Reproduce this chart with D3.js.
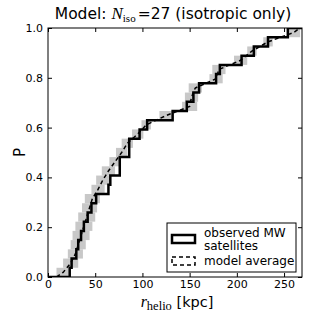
<!DOCTYPE html>
<html>
<head>
<meta charset="utf-8">
<script src="https://cdn.jsdelivr.net/npm/d3@7"></script>
<style>
    html, body { margin: 0; padding: 0; background: #fff; }
    svg text { font-family: "DejaVu Sans", sans-serif; fill: #000; }
</style>
</head>
<body>
<svg id="chart" width="316" height="316"></svg>
<script>
// observed MW satellites, heliocentric distances [kpc], sorted
const observedR = [23, 25, 30, 32, 35, 38, 42, 46, 51, 64, 66, 76, 76, 86, 86,
                   97, 105, 132, 147, 154, 160, 178, 182, 205, 218, 233, 254];
// model average of k-th nearest distance and its half spread [kpc]
const modelR = [16, 24, 29, 32, 35, 38, 41, 44, 47, 53, 58, 64, 71, 78, 84,
                95, 104, 125, 150, 152, 156, 178, 181, 204, 216, 233, 260];
const modelHalf = [7, 8, 8, 8, 9, 9, 9, 8, 8, 7, 7, 7, 6, 6, 6,
                   6, 5, 7, 8, 7, 7, 7, 7, 7, 5, 5, 7];
const xTicks = [0, 50, 100, 150, 200, 250];
const yTicks = [0, 0.2, 0.4, 0.6, 0.8, 1.0];
const legendLabels = [["observed MW", "satellites"], ["model average"]];

const svg = d3.select("#chart");
const plot = { left: 48, right: 302, top: 28, bottom: 277 };
const n = observedR.length;

const x = d3.scaleLinear().domain([0, 269]).range([plot.left, plot.right]);
const y = d3.scaleLinear().domain([0, 1]).range([plot.bottom, plot.top]);

svg.append("clipPath").attr("id", "clip")
    .append("rect")
    .attr("x", plot.left).attr("y", plot.top)
    .attr("width", plot.right - plot.left).attr("height", plot.bottom - plot.top);

const g = svg.append("g").attr("clip-path", "url(#clip)");

// gray spread boxes
g.selectAll("rect.spread")
    .data(modelR)
    .enter().append("rect")
    .attr("class", "spread")
    .attr("x", (d, i) => x(d - modelHalf[i]))
    .attr("width", (d, i) => x(d + modelHalf[i]) - x(d - modelHalf[i]))
    .attr("y", (d, i) => y((i + 1) / n))
    .attr("height", (d, i) => y(i / n) - y((i + 1) / n))
    .attr("fill", "#c8c8c8");

// model average (dashed)
let avgPoints = [{ r: modelR[0] - modelHalf[0], p: 0 }];
modelR.forEach(function(d, i) { avgPoints.push({ r: d, p: (i + 0.5) / n }); });
avgPoints.push({ r: modelR[n - 1] + modelHalf[n - 1], p: 1 });

g.append("path")
    .attr("d", d3.line().x(d => x(d.r)).y(d => y(d.p))(avgPoints))
    .attr("fill", "none")
    .attr("stroke", "#000")
    .attr("stroke-width", 1.5)
    .attr("stroke-dasharray", "4 3");

// observed cumulative distribution (step)
let obsPoints = [{ r: 0, p: 0 }];
observedR.forEach(function(d, i) { obsPoints.push({ r: d, p: (i + 1) / n }); });
obsPoints.push({ r: 269, p: 1 });

g.append("path")
    .attr("d", d3.line().curve(d3.curveStepAfter).x(d => x(d.r)).y(d => y(d.p))(obsPoints))
    .attr("fill", "none")
    .attr("stroke", "#000")
    .attr("stroke-width", 2.5);

// axes, ticks pointing in, on all four sides
svg.append("g").attr("transform", `translate(0,${plot.bottom})`)
    .call(d3.axisBottom(x).tickValues(xTicks).tickSizeInner(-4).tickSizeOuter(0).tickPadding(3))
    .call(a => a.selectAll("text").attr("font-size", 11).attr("font-family", "DejaVu Sans"));
svg.append("g").attr("transform", `translate(0,${plot.top})`)
    .call(d3.axisTop(x).tickValues(xTicks).tickSizeInner(-4).tickSizeOuter(0).tickFormat(""));
svg.append("g").attr("transform", `translate(${plot.left},0)`)
    .call(d3.axisLeft(y).tickValues(yTicks).tickSizeInner(-4).tickSizeOuter(0).tickPadding(5).tickFormat(d3.format(".1f")))
    .call(a => a.selectAll("text").attr("font-size", 11).attr("font-family", "DejaVu Sans"));
svg.append("g").attr("transform", `translate(${plot.right},0)`)
    .call(d3.axisRight(y).tickValues(yTicks).tickSizeInner(-4).tickSizeOuter(0).tickFormat(""));
svg.selectAll(".domain").remove();

svg.append("rect")
    .attr("x", plot.left).attr("y", plot.top)
    .attr("width", plot.right - plot.left).attr("height", plot.bottom - plot.top)
    .attr("fill", "none").attr("stroke", "#000").attr("stroke-width", 1);

// title
const title = svg.append("text")
    .attr("x", 173).attr("y", 19)
    .attr("text-anchor", "middle")
    .attr("font-size", 15.5);
title.append("tspan").text("Model: ");
title.append("tspan").text("N").attr("font-family", "Liberation Serif").attr("font-style", "italic").attr("font-size", 17);
title.append("tspan").text("iso").attr("font-family", "Liberation Serif").attr("font-size", 11).attr("dy", 3);
title.append("tspan").text("=").attr("dy", -3).attr("dx", 2);
title.append("tspan").text("27 (isotropic only)");

// axis labels
const xl = svg.append("text")
    .attr("x", 177).attr("y", 307)
    .attr("text-anchor", "middle")
    .attr("font-size", 14.5);
xl.append("tspan").text("r").attr("font-family", "Liberation Serif").attr("font-style", "italic").attr("font-size", 16);
xl.append("tspan").text("helio").attr("font-family", "Liberation Serif").attr("font-size", 12.5).attr("dy", 3);
xl.append("tspan").text(" [kpc]").attr("dy", -3);

svg.append("text")
    .attr("transform", `translate(25,${(plot.top + plot.bottom) / 2}) rotate(-90)`)
    .attr("text-anchor", "middle")
    .attr("font-size", 15)
    .text("P");

// legend
const lg = svg.append("g");
lg.append("rect")
    .attr("x", 167).attr("y", 223).attr("width", 129).attr("height", 49)
    .attr("fill", "#fff").attr("stroke", "#000").attr("stroke-width", 1);
lg.append("rect")
    .attr("x", 172).attr("y", 235).attr("width", 23).attr("height", 8)
    .attr("fill", "none").attr("stroke", "#000").attr("stroke-width", 2.5);
lg.append("rect")
    .attr("x", 172).attr("y", 257).attr("width", 23).attr("height", 8)
    .attr("fill", "none").attr("stroke", "#000").attr("stroke-width", 1.5)
    .attr("stroke-dasharray", "4 3");
lg.selectAll("text.l0")
    .data(legendLabels[0])
    .enter().append("text")
    .attr("x", 204).attr("y", (d, i) => 236.5 + i * 13.5)
    .attr("font-size", 12)
    .text(d => d);
lg.append("text")
    .attr("x", 204).attr("y", 265)
    .attr("font-size", 12)
    .text(legendLabels[1][0]);
</script>
</body>
</html>
